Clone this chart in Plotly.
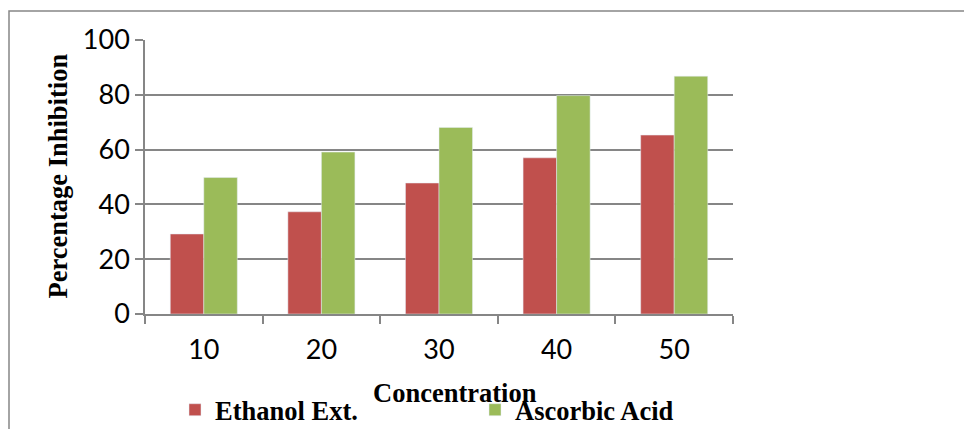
import plotly.graph_objects as go

categories = ["10", "20", "30", "40", "50"]
ethanol = [29.2, 37.3, 47.8, 57.0, 65.3]
ascorbic = [49.8, 59.1, 68.1, 79.7, 86.8]
yticks = [0, 20, 40, 60, 80, 100]

# page has an 8px body margin; figure is sized to fit the 972x429 window
OFF = 8
W, H = 972 - OFF, 429 - OFF
# plot area in screenshot pixels
L, R, T, B = 145, 733, 40, 314
pw, ph = R - L, B - T

def px(x):
    return (x - L) / pw

def py(y):
    return (B - y) / ph

grid = "#868686"
serif = dict(family="Liberation Serif", size=26.5, color="black", weight="bold")
tickf = dict(family="Lato", size=27, color="black")

fig = go.Figure()
fig.add_bar(x=categories, y=ethanol, name="Ethanol Ext.", marker_color="#C0504D", legend="legend")
fig.add_bar(x=categories, y=ascorbic, name="Ascorbic Acid", marker_color="#9BBB59", legend="legend2")

leg = dict(orientation="h", xref="container", yref="container", xanchor="left", yanchor="middle",
           font=serif, bgcolor="rgba(0,0,0,0)", borderwidth=0, itemwidth=30)

fig.update_layout(
    width=W, height=H,
    margin=dict(l=L - OFF, r=W - (R - OFF), t=T - OFF, b=H - (B - OFF), pad=0),
    paper_bgcolor="white", plot_bgcolor="white",
    barmode="group", bargap=0.43, bargroupgap=0,
    showlegend=True,
    legend=dict(leg, x=167 / W, y=1 - (410 - OFF) / H),
    legend2=dict(leg, x=467 / W, y=1 - (410 - OFF) / H),
    xaxis=dict(showline=True, linecolor=grid, linewidth=1.5, ticks="outside", tickson="boundaries",
               ticklen=8, tickcolor=grid, tickwidth=1.5, tickfont=tickf, automargin=False,
               ticklabelstandoff=11, showgrid=False),
    yaxis=dict(range=[0, 100], tickvals=yticks, showline=True, linecolor=grid, linewidth=1.5,
               ticks="outside", ticklen=8, tickcolor=grid, tickwidth=1.5, tickfont=tickf,
               automargin=False, ticklabelstandoff=0, showgrid=True, gridcolor=grid, gridwidth=1.5,
               zeroline=False),
    annotations=[
        dict(text="Concentration", x=px(455.5), y=py(393), xref="paper", yref="paper",
             showarrow=False, xanchor="center", yanchor="middle", font=serif),
        dict(text="Percentage Inhibition", x=px(57), y=py(176.5), xref="paper", yref="paper",
             showarrow=False, xanchor="center", yanchor="middle", textangle=-90, font=serif),
    ],
    shapes=[dict(type="rect", xref="paper", yref="paper", x0=px(9), x1=px(990), y0=py(11), y1=py(450),
                 line=dict(color=grid, width=1.5), fillcolor="rgba(0,0,0,0)", layer="below")],
)
fig.write_html("out.html")
